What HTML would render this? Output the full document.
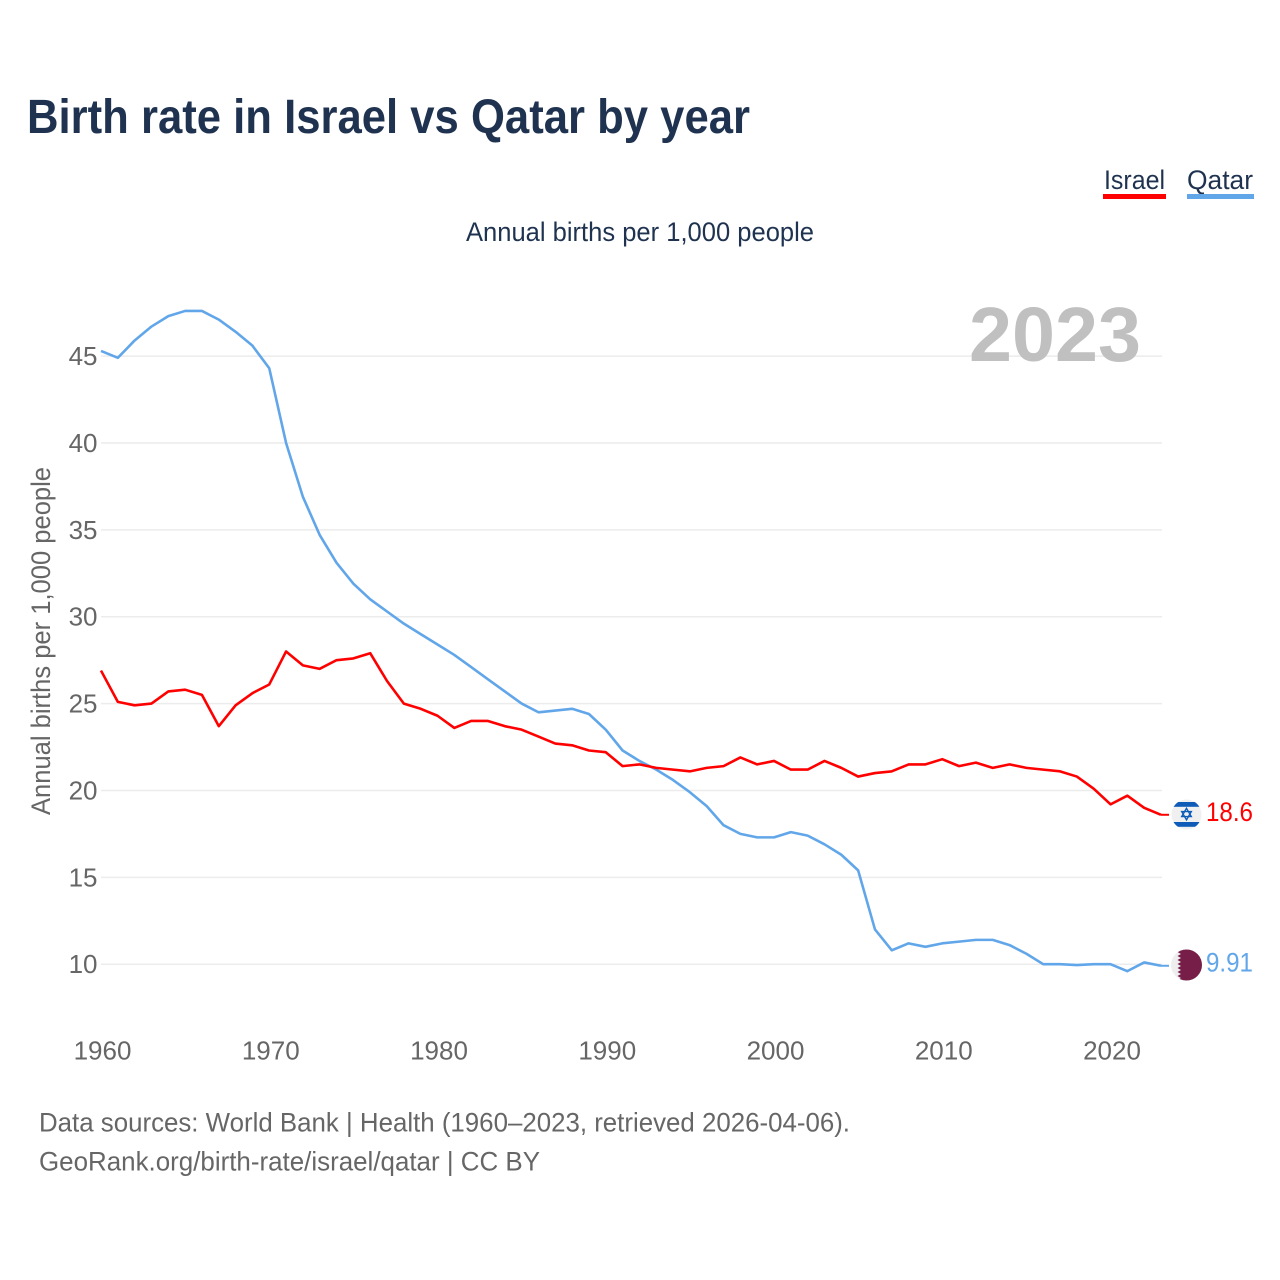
<!DOCTYPE html>
<html lang="en">
<head>
<meta charset="utf-8">
<title>Birth rate in Israel vs Qatar by year</title>
<style>
html,body{margin:0;padding:0;background:#fff;}
#chart-root{display:block;width:1280px;height:1280px;}
text{font-family:"Liberation Sans",sans-serif;}
</style>
</head>
<body>
<svg id="chart-root" xmlns="http://www.w3.org/2000/svg" width="1280" height="1280" viewBox="0 0 1280 1280">
  <defs>
    <clipPath id="flag-clip-il"><circle cx="1186.5" cy="814.5" r="15"/></clipPath>
    <clipPath id="flag-clip-qa"><circle cx="1186.5" cy="965" r="15.5"/></clipPath>
  </defs>
  <rect x="0" y="0" width="1280" height="1280" fill="#fff"/>
  <text x="27" y="133" font-size="48" font-weight="700" fill="#1f3350" textLength="723" lengthAdjust="spacingAndGlyphs">Birth rate in Israel vs Qatar by year</text>

  <g>
    <text x="1104" y="189" font-size="27" fill="#1f3350" textLength="61" lengthAdjust="spacingAndGlyphs">Israel</text>
    <rect x="1103" y="194" width="63" height="5" fill="#ff0000"/>
  </g>
  <g>
    <text x="1187" y="189" font-size="27" fill="#1f3350" textLength="66" lengthAdjust="spacingAndGlyphs">Qatar</text>
    <rect x="1187" y="194" width="67" height="5" fill="#62a6ea"/>
  </g>

  <text x="466" y="241" font-size="26.5" fill="#1f3350" textLength="348" lengthAdjust="spacingAndGlyphs">Annual births per 1,000 people</text>
  <text transform="translate(50,815) rotate(-90)" x="0" y="0" font-size="26.5" fill="#666666" textLength="348" lengthAdjust="spacingAndGlyphs">Annual births per 1,000 people</text>

  <g id="grid-layer"></g>
  <g id="ytick-layer"></g>
  <g id="xtick-layer"></g>

  <text x="969" y="361" font-size="77" font-weight="700" fill="#c0c0c0" textLength="172" lengthAdjust="spacingAndGlyphs">2023</text>

  <g id="series-layer"></g>

  <g clip-path="url(#flag-clip-il)">
    <rect x="1170" y="798" width="33" height="33" fill="#f0f0f0"/>
    <rect x="1170" y="802" width="33" height="4.8" fill="#0f5cb8"/>
    <rect x="1170" y="822" width="33" height="4.8" fill="#0f5cb8"/>
    <polygon points="1186.5,808.3 1191.3,816.6 1181.7,816.6" fill="none" stroke="#0f5cb8" stroke-width="1.4"/>
    <polygon points="1186.5,819.9 1191.3,811.6 1181.7,811.6" fill="none" stroke="#0f5cb8" stroke-width="1.4"/>
  </g>
  <g clip-path="url(#flag-clip-qa)">
    <rect x="1170" y="948" width="33" height="34" fill="#eeeeee"/>
    <polygon points="1181,948 1204,948 1204,982 1181,982 1177.5,980 1181,978 1177.5,976 1181,974 1177.5,972 1181,970 1177.5,968 1181,966 1177.5,964 1181,962 1177.5,960 1181,958 1177.5,956 1181,954 1177.5,952 1181,950" fill="#761d48"/>
  </g>

  <text id="value-israel" x="1206" y="821" font-size="27" fill="#ff0000" textLength="47" lengthAdjust="spacingAndGlyphs"></text>
  <text id="value-qatar" x="1206" y="971.5" font-size="27" fill="#62a6ea" textLength="47" lengthAdjust="spacingAndGlyphs"></text>

  <text x="39" y="1131.5" font-size="27" fill="#666666" textLength="811" lengthAdjust="spacingAndGlyphs">Data sources: World Bank | Health (1960–2023, retrieved 2026-04-06).</text>
  <text x="39" y="1170.5" font-size="27" fill="#666666" textLength="501" lengthAdjust="spacingAndGlyphs">GeoRank.org/birth-rate/israel/qatar | CC BY</text>
</svg>

<script>
const years = [1960,1961,1962,1963,1964,1965,1966,1967,1968,1969,1970,1971,1972,1973,1974,1975,1976,1977,1978,1979,1980,1981,1982,1983,1984,1985,1986,1987,1988,1989,1990,1991,1992,1993,1994,1995,1996,1997,1998,1999,2000,2001,2002,2003,2004,2005,2006,2007,2008,2009,2010,2011,2012,2013,2014,2015,2016,2017,2018,2019,2020,2021,2022,2023];
const israelValues = [26.9,25.1,24.9,25.0,25.7,25.8,25.5,23.7,24.9,25.6,26.1,28.0,27.2,27.0,27.5,27.6,27.9,26.3,25.0,24.7,24.3,23.6,24.0,24.0,23.7,23.5,23.1,22.7,22.6,22.3,22.2,21.4,21.5,21.3,21.2,21.1,21.3,21.4,21.9,21.5,21.7,21.2,21.2,21.7,21.3,20.8,21.0,21.1,21.5,21.5,21.8,21.4,21.6,21.3,21.5,21.3,21.2,21.1,20.8,20.1,19.2,19.7,19.0,18.6];
const qatarValues = [45.3,44.9,45.9,46.7,47.3,47.6,47.6,47.1,46.4,45.6,44.3,40.0,36.9,34.7,33.1,31.9,31.0,30.3,29.6,29.0,28.4,27.8,27.1,26.4,25.7,25.0,24.5,24.6,24.7,24.4,23.5,22.3,21.7,21.2,20.6,19.9,19.1,18.0,17.5,17.3,17.3,17.6,17.4,16.9,16.3,15.4,12.0,10.8,11.2,11.0,11.2,11.3,11.4,11.4,11.1,10.6,10.0,10.0,9.95,10.0,10.0,9.6,10.1,9.91];
const yTickValues = [10,15,20,25,30,35,40,45];
const xTickValues = [1960,1970,1980,1990,2000,2010,2020];
const israelValueLabel = "18.6";
const qatarValueLabel = "9.91";

const SVG_NS = "http://www.w3.org/2000/svg";
function xScale(year){ return 101 + (year - 1960) * (1161 - 101) / 63; }
function yScale(value){ return 964.2 - (value - 10) * (964.2 - 356.1) / 35; }
function makeEl(tag, parent){
  const el = document.createElementNS(SVG_NS, tag);
  parent.appendChild(el);
  return el;
}

const gridLayer = document.getElementById("grid-layer");
const yTickLayer = document.getElementById("ytick-layer");
yTickValues.forEach(function(v){
  const line = makeEl("line", gridLayer);
  
  
  line.setAttribute("x1", 101);
  line.setAttribute("x2", 1162);
  line.setAttribute("y1", yScale(v));
  line.setAttribute("y2", yScale(v));
  line.setAttribute("stroke", "#ececec");
  line.setAttribute("stroke-width", "1.5");
  const label = makeEl("text", yTickLayer);
  
  
  label.setAttribute("x", 97.5);
  label.setAttribute("y", yScale(v) + 9);
  label.setAttribute("text-anchor", "end");
  label.setAttribute("font-size", "26");
  label.setAttribute("fill", "#666666");
  label.textContent = String(v);
});

const xTickLayer = document.getElementById("xtick-layer");
xTickValues.forEach(function(t){
  const label = makeEl("text", xTickLayer);
  
  
  label.setAttribute("x", xScale(t) + 1.5);
  label.setAttribute("y", 1059.5);
  label.setAttribute("text-anchor", "middle");
  label.setAttribute("font-size", "26");
  label.setAttribute("fill", "#666666");
  label.textContent = String(t);
});

const seriesLayer = document.getElementById("series-layer");
function drawSeries(values, color, name){
  const line = makeEl("polyline", seriesLayer);
  
  
  const pts = values.map(function(v, i){ return xScale(years[i]).toFixed(2) + "," + yScale(v).toFixed(2); });
  line.setAttribute("points", pts.join(" "));
  line.setAttribute("fill", "none");
  line.setAttribute("stroke", color);
  line.setAttribute("stroke-width", "2.6");
  line.setAttribute("stroke-linejoin", "round");
  const last = values[values.length - 1];
  const leader = makeEl("line", seriesLayer);
  
  
  leader.setAttribute("x1", xScale(years[years.length - 1]));
  leader.setAttribute("x2", 1169);
  leader.setAttribute("y1", yScale(last));
  leader.setAttribute("y2", yScale(last));
  leader.setAttribute("stroke", color);
  leader.setAttribute("stroke-width", "2");
}
drawSeries(qatarValues, "#62a6ea", "qatar");
drawSeries(israelValues, "#ff0000", "israel");

document.getElementById("value-israel").textContent = israelValueLabel;
document.getElementById("value-qatar").textContent = qatarValueLabel;
</script>
</body>
</html>
